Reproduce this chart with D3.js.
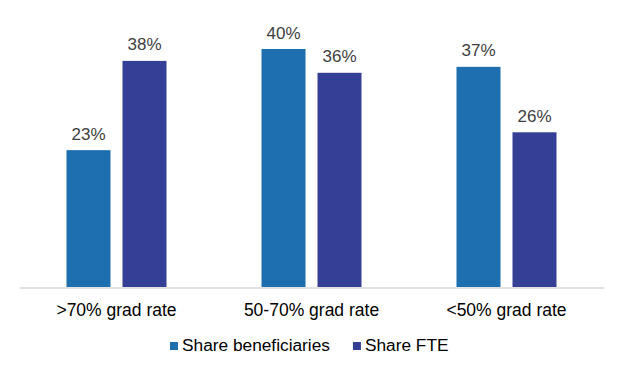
<!DOCTYPE html>
<html>
<head>
<meta charset="utf-8">
<script src="https://cdn.jsdelivr.net/npm/d3@7"></script>
<style>
  html, body { margin: 0; padding: 0; background: #fff; }
  svg { display: block; font-family: "Liberation Sans", Arial, sans-serif; }
</style>
</head>
<body>
<svg id="chart" width="624" height="371"></svg>
<script>
const categories = [">70% grad rate", "50-70% grad rate", "<50% grad rate"];
const seriesNames = ["Share beneficiaries", "Share FTE"];
const beneficiaries = [0.23, 0.40, 0.37];
const fte = [0.38, 0.36, 0.26];
const seriesColors = ["#1e6fb0", "#343f95"];

const seriesValues = [beneficiaries, fte];
const data = categories.map((c, i) => ({
  category: c,
  values: seriesNames.map((s, j) => ({ series: s, value: seriesValues[j][i] }))
}));

const svg = d3.select("#chart");
const baseline = 287;
const y = d3.scaleLinear().domain([0, 0.45]).range([baseline, baseline - 0.45 * 595]);
const x0 = d3.scaleBand().domain(categories).range([19, 604]).paddingInner(0).paddingOuter(0);
const x1 = d3.scaleBand().domain(seriesNames).range([-50, 50]).paddingInner(2 - 100 / 56).paddingOuter(0);
const color = d3.scaleOrdinal().domain(seriesNames).range(seriesColors);

const groups = svg.selectAll("g.group").data(data).enter().append("g")
  .attr("class", "group")
  .attr("transform", d => `translate(${x0(d.category) + x0.bandwidth() / 2},0)`);

groups.selectAll("rect").data(d => d.values).enter().append("rect")
  .attr("x", d => x1(d.series))
  .attr("width", x1.bandwidth())
  .attr("y", d => y(d.value))
  .attr("height", d => baseline - y(d.value))
  .attr("fill", d => color(d.series));

groups.selectAll("text.val").data(d => d.values).enter().append("text")
  .attr("class", "val")
  .attr("x", d => x1(d.series) + x1.bandwidth() / 2)
  .attr("y", d => y(d.value) - 10.5)
  .attr("text-anchor", "middle")
  .attr("font-size", "17px")
  .attr("fill", "#404040")
  .text(d => d3.format(".0%")(d.value));

// axis
const xAxis = d3.axisBottom(x0).tickSize(0).tickPadding(0);
const ax = svg.append("g").attr("transform", `translate(0,${baseline + 0.5})`).call(xAxis);
ax.select(".domain").attr("stroke", "#d9d9d9").attr("stroke-width", 1.3);
ax.selectAll(".tick text")
  .attr("font-size", "17.5px")
  .attr("font-family", "Liberation Sans, Arial, sans-serif")
  .attr("fill", "#000")
  .attr("dy", null)
  .attr("y", 316 - baseline - 0.5);

// legend
const legend = svg.append("g");
const items = legend.selectAll("g").data(seriesNames).enter().append("g");
items.append("rect").attr("width", 8).attr("height", 8).attr("y", 342).attr("fill", d => color(d));
items.append("text").attr("x", 12).attr("y", 351).attr("font-size", "17.3px").attr("fill", "#000").text(d => d);
let xpos = 170;
items.each(function () {
  const g = d3.select(this);
  g.attr("transform", `translate(${xpos},0)`);
  const w = g.select("text").node().getComputedTextLength();
  xpos += 12 + w + 23;
});
</script>
</body>
</html>
